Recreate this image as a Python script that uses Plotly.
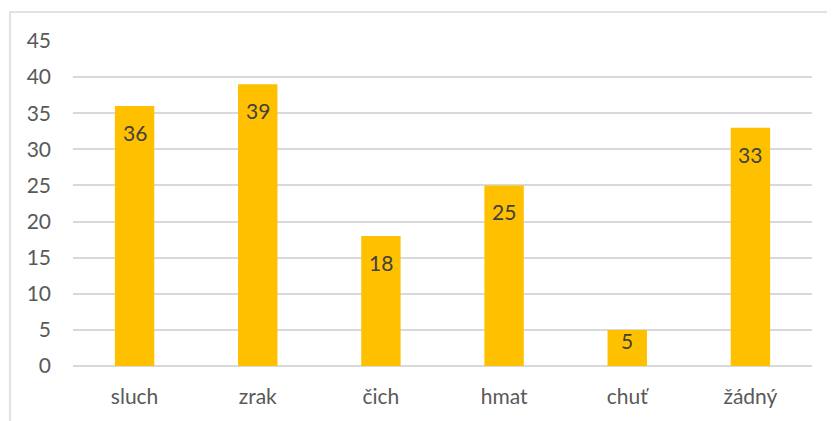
import plotly.graph_objects as go

categories = ["sluch", "zrak", "čich", "hmat", "chuť", "žádný"]
values = [36, 39, 18, 25, 5, 33]
y_ticks = [0, 5, 10, 15, 20, 25, 30, 35, 40, 45]

BAR_COLOR = "#FFC000"
GRID = "#D9D9D9"
TEXT = "#595959"
LABEL = "#404040"
FONT = "Lato, 'Open Sans', sans-serif"
FS = 21

# page body adds ~8px offset, so the figure is a bit smaller than the window
W, H = 827, 413
M_L, M_R, M_T, M_B = 65, 23, 33, 55
plot_w = W - M_L - M_R
plot_h = H - M_T - M_B
Y_MAX = 45

fig = go.Figure()
fig.add_trace(
    go.Bar(
        x=categories,
        y=values,
        marker=dict(color=BAR_COLOR, line=dict(width=0)),
        hoverinfo="x+y",
    )
)

# data labels at the inside end of each bar
for cat, val in zip(categories, values):
    bar_px = val * plot_h / Y_MAX
    fig.add_annotation(
        x=cat, y=val,
        text=str(val),
        showarrow=False,
        yanchor="top",
        yshift=-12 if bar_px > 60 else 4,
        font=dict(color=LABEL, size=FS, family=FONT),
    )

# light chart frame (left and top edges visible, rest runs off the canvas)
fig.add_shape(
    type="rect",
    xref="paper", yref="paper",
    x0=(2 - M_L) / plot_w, x1=(W + 20 - M_L) / plot_w,
    y0=-(H + 20 - M_T - plot_h) / plot_h, y1=(H - M_B - 4) / plot_h,
    line=dict(color=GRID, width=1.5),
    fillcolor="rgba(0,0,0,0)",
    layer="below",
)

fig.update_layout(
    width=W,
    height=H,
    margin=dict(l=M_L, r=M_R, t=M_T, b=M_B),
    paper_bgcolor="white",
    plot_bgcolor="white",
    bargap=0.68,
    showlegend=False,
    font=dict(family=FONT, color=TEXT, size=FS),
    xaxis=dict(
        showgrid=False,
        showline=False,
        ticks="",
        tickfont=dict(size=FS, color=TEXT),
        ticklabelstandoff=16,
    ),
    yaxis=dict(
        range=[0, Y_MAX],
        tickvals=y_ticks,
        showgrid=True,
        gridcolor=GRID,
        gridwidth=1.5,
        zeroline=True,
        zerolinecolor=GRID,
        zerolinewidth=1.5,
        showline=False,
        ticks="",
        tickfont=dict(size=FS, color=TEXT),
        ticklabelstandoff=21,
    ),
)

fig.write_html("out.html")
